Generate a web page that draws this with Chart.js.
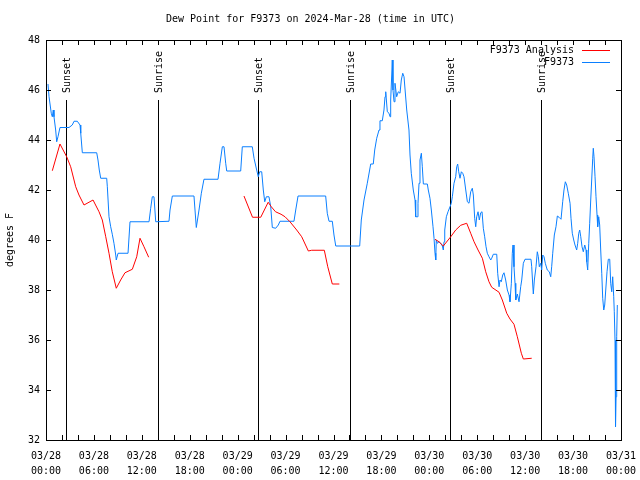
<!DOCTYPE html>
<html>
<head>
<meta charset="utf-8">
<script src="https://cdn.jsdelivr.net/npm/chart.js@4"></script>
<style>
  body { margin: 0; background: #fff; }
</style>
</head>
<body>
<canvas id="dew" width="640" height="480"></canvas>
<script>
// hours since 03/28 00:00 UTC
const blueHours = [
    0.25, 0.38, 0.66, 0.79, 0.91, 1.00, 1.21, 1.34, 1.50, 1.75,
    2.88, 3.29, 3.51, 3.92, 4.26, 4.35, 4.55, 6.35, 6.51, 6.67,
    6.85, 7.60, 7.68, 7.89, 8.10, 8.30, 8.51, 8.73, 8.80, 9.02,
    10.27, 10.52, 12.90, 13.11, 13.31, 13.52, 13.74, 15.40, 15.53, 15.82,
    18.53, 18.75, 18.82, 19.16, 19.45, 19.78, 21.54, 21.79, 22.08, 22.29,
    22.50, 22.63, 24.38, 24.58, 25.83, 26.05, 26.38, 26.58, 26.76, 27.01,
    27.21, 27.39, 27.59, 27.92, 28.14, 28.34, 28.76, 29.09, 29.30, 31.05,
    31.27, 31.56, 35.02, 35.22, 35.44, 35.85, 36.06, 36.28, 39.28, 39.48,
    39.82, 40.23, 40.66, 40.98, 41.16, 41.41, 41.70, 41.82, 42.11, 42.32,
    42.45, 42.54, 42.74, 42.95, 43.08, 43.16, 43.29, 43.36, 43.45, 43.58,
    43.70, 43.91, 44.11, 44.33, 44.49, 44.67, 44.83, 45.17, 45.45, 45.58,
    45.74, 45.99, 46.21, 46.29, 46.49, 46.58, 46.71, 46.83, 47.00, 47.12,
    47.25, 47.75, 47.87, 48.08, 48.25, 48.46, 48.59, 48.71, 48.80, 48.87,
    49.00, 49.21, 49.42, 49.63, 49.75, 49.84, 49.93, 50.13, 50.34, 50.59,
    50.75, 50.88, 51.09, 51.30, 51.43, 51.55, 51.68, 51.84, 52.01, 52.18,
    52.34, 52.56, 52.76, 52.97, 53.18, 53.38, 53.51, 53.68, 53.81, 53.93,
    54.10, 54.26, 54.43, 54.60, 54.76, 54.93, 55.10, 55.26, 55.47, 55.69,
    55.81, 56.01, 56.44, 56.56, 56.73, 56.85, 57.01, 57.19, 57.35, 57.56,
    57.77, 57.98, 58.10, 58.27, 58.39, 58.48, 58.60, 58.73, 58.82, 59.02,
    59.23, 59.44, 59.57, 59.77, 59.98, 60.73, 60.82, 60.95, 61.02, 61.15,
    61.36, 61.52, 61.65, 61.77, 61.95, 62.07, 62.20, 62.36, 62.52, 62.77,
    63.02, 63.20, 63.32, 63.45, 63.65, 63.86, 64.03, 64.24, 64.49, 64.70,
    64.86, 65.03, 65.20, 65.40, 65.62, 65.74, 65.90, 66.08, 66.24, 66.45,
    66.58, 66.71, 66.83, 66.96, 67.12, 67.28, 67.46, 67.62, 67.71, 67.83,
    67.96, 68.08, 68.21, 68.33, 68.46, 68.53, 68.62, 68.75, 68.87, 69.00,
    69.08, 69.21, 69.33, 69.46, 69.59, 69.71, 69.84, 69.96, 70.09, 70.25,
    70.41, 70.59, 70.71, 70.84, 70.96, 71.09, 71.16, 71.25, 71.29, 71.34,
    71.38, 71.46, 71.54
];
const blueDew = [
    46.24, 45.73, 45.07, 44.93, 45.2, 44.93, 44.4, 43.93, 44.13, 44.5,
    44.5, 44.6, 44.75, 44.75, 44.6, 44.27, 43.49, 43.49, 43.2, 42.8,
    42.47, 42.47, 42.13, 40.93, 40.53, 40.23, 39.87, 39.4, 39.2, 39.47,
    39.47, 40.73, 40.73, 41.27, 41.73, 41.73, 40.73, 40.75, 41.2, 41.76,
    41.76, 40.8, 40.5, 41.2, 41.87, 42.43, 42.43, 43.07, 43.73, 43.73,
    43.07, 42.76, 42.76, 43.73, 43.73, 43.27, 42.8, 42.53, 42.73, 42.73,
    42.0, 41.53, 41.73, 41.73, 41.33, 40.5, 40.47, 40.6, 40.75, 40.75,
    41.2, 41.76, 41.76, 41.07, 40.75, 40.75, 40.2, 39.76, 39.76, 40.8,
    41.6, 42.27, 43.04, 43.04, 43.6, 44.07, 44.4, 44.77, 44.77, 45.2,
    45.73, 45.93, 45.13, 45.07, 44.93, 45.6, 46.6, 47.2, 46.0, 45.53,
    46.27, 45.73, 45.93, 45.87, 46.4, 46.67, 46.53, 45.2, 44.4, 43.4,
    42.67, 42.0, 41.6, 40.93, 40.93, 41.47, 42.27, 43.2, 43.47, 42.93,
    42.24, 42.24, 42.0, 41.67, 41.2, 40.53, 40.07, 39.47, 39.2, 40.0,
    39.87, 39.93, 39.87, 39.76, 39.6, 39.93, 40.4, 40.93, 41.13, 41.33,
    41.47, 41.73, 42.27, 42.53, 42.93, 43.04, 42.73, 42.47, 42.73, 42.67,
    42.53, 42.0, 41.53, 41.47, 41.93, 42.07, 41.8, 40.87, 40.53, 40.93,
    41.13, 40.8, 41.09, 41.13, 40.47, 40.13, 39.73, 39.47, 39.33, 39.2,
    39.27, 39.43, 39.43, 38.67, 38.13, 38.4, 38.33, 38.6, 38.69, 38.4,
    38.0, 37.8, 37.53, 38.27, 39.47, 39.8, 38.93, 38.27, 37.6, 37.84,
    37.53, 38.13, 38.4, 39.07, 39.23, 39.23, 38.93, 38.2, 37.84, 38.4,
    38.93, 39.53, 39.33, 38.93, 39.07, 38.8, 39.4, 39.33, 39.07, 38.8,
    38.73, 38.53, 38.93, 39.47, 40.2, 40.53, 40.96, 40.91, 40.83, 41.53,
    42.0, 42.33, 42.2, 41.87, 41.47, 40.87, 40.27, 40.0, 39.8, 39.6,
    39.87, 40.27, 40.4, 40.13, 39.73, 39.53, 39.8, 39.6, 39.13, 38.8,
    39.87, 40.67, 41.6, 42.4, 43.27, 43.67, 43.33, 42.53, 41.73, 41.0,
    40.53, 40.93, 40.6, 39.6, 38.67, 37.67, 37.2, 37.4, 38.0, 38.73,
    39.23, 39.23, 38.27, 37.93, 38.53, 37.73, 37.13, 36.0, 34.13, 32.53,
    33.73, 36.13, 37.4
];

// analysis runs, null = no analysis (line break)
const redHours = [
    0.79, 1.75, 2.59, 3.09, 3.72, 4.13, 4.76, 5.89, 6.64, 7.05,
    7.48, 7.89, 8.30, 8.80, 9.35, 9.89, 10.81, 11.36, 11.77, 12.27,
    12.86, 18.00, 24.79, 25.86, 26.89, 27.82, 28.21, 28.74, 29.43, 29.93,
    30.55, 31.39, 32.02, 32.85, 33.27, 34.85, 35.28, 35.85, 36.73, 42.00,
    48.71, 49.21, 49.75, 50.68, 51.30, 51.93, 52.68, 53.18, 53.60, 54.10,
    54.64, 55.06, 55.47, 55.81, 56.73, 57.14, 57.69, 58.10, 58.60, 59.02,
    59.52, 59.77, 60.82
];
const redDew = [
    42.77, 43.84, 43.33, 42.93, 42.13, 41.8, 41.4, 41.6, 41.13, 40.8,
    40.13, 39.47, 38.73, 38.07, 38.4, 38.69, 38.83, 39.33, 40.07, 39.73,
    39.31, null, 41.76, 40.91, 40.91, 41.51, 41.33, 41.13, 41.03, 40.93,
    40.73, 40.4, 40.13, 39.56, 39.59, 39.59, 38.93, 38.24, 38.24, null,
    40.03, 39.93, 39.76, 40.13, 40.4, 40.59, 40.67, 40.27, 39.93, 39.6,
    39.27, 38.73, 38.33, 38.11, 37.91, 37.6, 37.07, 36.84, 36.63, 36.13,
    35.47, 35.24, 35.27
];

const sunHours = [2.5, 14.0, 26.55, 38.05, 50.6, 62.0];
const sunNames = ['Sunset', 'Sunrise', 'Sunset', 'Sunrise', 'Sunset', 'Sunrise'];
const sunLineTop = 45.6;

const xTickDates = ['03/28', '03/28', '03/28', '03/28', '03/29', '03/29', '03/29', '03/29', '03/30', '03/30', '03/30', '03/30', '03/31'];
const xTickTimes = ['00:00', '06:00', '12:00', '18:00', '00:00', '06:00', '12:00', '18:00', '00:00', '06:00', '12:00', '18:00', '00:00'];

const redColor = '#ff0000';
const blueColor = '#0a7fff';
const monoFont = '"DejaVu Sans Mono", "Liberation Mono", monospace';

Chart.defaults.font.family = monoFont;
Chart.defaults.font.size = 10;
Chart.defaults.color = '#000';

function pairs(xs, ys) {
    return xs.map((h, i) => ({x: h, y: ys[i]}));
}

let datasets = [
    {
        label: 'F9373 Analysis',
        data: pairs(redHours, redDew),
        borderColor: redColor,
        borderWidth: 1,
        pointRadius: 0,
        spanGaps: false
    },
    {
        label: 'F9373',
        data: pairs(blueHours, blueDew),
        borderColor: blueColor,
        borderWidth: 1,
        pointRadius: 0
    }
];

// gnuplot style box with inward ticks on all four sides
const frameTicks = {
    id: 'frameTicks',
    afterDraw(chart) {
        const {ctx, chartArea: a, scales: {x, y}} = chart;
        const px = v => Math.round(v) + 0.5;
        ctx.save();
        ctx.strokeStyle = '#000';
        ctx.lineWidth = 1;
        ctx.beginPath();
        for (let h = 0; h <= 72; h += 2) {
            let xp = px(x.getPixelForValue(h));
            ctx.moveTo(xp, a.bottom); ctx.lineTo(xp, a.bottom - 5);
            ctx.moveTo(xp, a.top); ctx.lineTo(xp, a.top + 5);
        }
        for (let d = 32; d <= 48; d += 2) {
            let yp = px(y.getPixelForValue(d));
            ctx.moveTo(a.left, yp); ctx.lineTo(a.left + 5, yp);
            ctx.moveTo(a.right, yp); ctx.lineTo(a.right - 5, yp);
        }
        ctx.stroke();
        ctx.strokeRect(px(a.left), px(a.top), Math.round(a.right - a.left), Math.round(a.bottom - a.top));
        ctx.restore();
    }
};

// sunrise / sunset markers, drawn under the series
const sunMarks = {
    id: 'sunMarks',
    beforeDatasetsDraw(chart) {
        const {ctx, scales: {x, y}} = chart;
        ctx.save();
        ctx.strokeStyle = '#000';
        ctx.lineWidth = 1;
        ctx.beginPath();
        sunHours.forEach(h => {
            let xp = Math.round(x.getPixelForValue(h)) + 0.5;
            ctx.moveTo(xp, Math.round(y.getPixelForValue(sunLineTop)));
            ctx.lineTo(xp, y.getPixelForValue(32));
        });
        ctx.stroke();
        ctx.font = '10px ' + monoFont;
        ctx.fillStyle = '#000';
        ctx.textAlign = 'left';
        ctx.textBaseline = 'middle';
        sunHours.forEach((h, i) => {
            ctx.save();
            ctx.translate(Math.round(x.getPixelForValue(h)) + 1, y.getPixelForValue(sunLineTop) - 7);
            ctx.rotate(-Math.PI / 2);
            ctx.fillText(sunNames[i], 0, 0);
            ctx.restore();
        });
        ctx.restore();
    }
};

const keyBox = {
    id: 'keyBox',
    afterDraw(chart) {
        const {ctx, chartArea: a} = chart;
        const rows = [['F9373 Analysis', redColor], ['F9373', blueColor]];
        ctx.save();
        ctx.font = '10px ' + monoFont;
        ctx.textAlign = 'right';
        ctx.textBaseline = 'middle';
        rows.forEach((r, i) => {
            let yy = a.top + 10 + 12 * i;
            ctx.fillStyle = '#000';
            ctx.fillText(r[0], a.right - 47, yy);
            ctx.strokeStyle = r[1];
            ctx.lineWidth = 1;
            ctx.beginPath();
            ctx.moveTo(a.right - 39, yy + 0.5);
            ctx.lineTo(a.right - 11, yy + 0.5);
            ctx.stroke();
        });
        ctx.restore();
    }
};

new Chart(document.getElementById('dew'), {
    type: 'line',
    data: {datasets: datasets},
    options: {
        responsive: false,
        animation: false,
        devicePixelRatio: 1,
        layout: {padding: {left: 0, right: 19, top: 0, bottom: 0}},
        elements: {line: {tension: 0}},
        scales: {
            x: {
                type: 'linear',
                min: 0,
                max: 72,
                grid: {display: false, drawTicks: false},
                border: {display: false},
                ticks: {
                    stepSize: 6,
                    autoSkip: false,
                    maxRotation: 0,
                    padding: 9,
                    font: {size: 10, lineHeight: 1.5},
                    callback: v => [xTickDates[v / 6], xTickTimes[v / 6]]
                },
                afterFit: s => {
                    s.height = 40;
                    s.paddingLeft = 0;
                    s.paddingRight = 0;
                }
            },
            y: {
                min: 32,
                max: 48,
                grid: {display: false, drawTicks: false},
                border: {display: false},
                ticks: {stepSize: 2, padding: 6},
                title: {display: true, text: 'degrees F', padding: {top: 4, bottom: 4}, font: {size: 10}},
                afterFit: s => {
                    s.width = 46;
                    s.paddingTop = 0;
                    s.paddingBottom = 0;
                }
            }
        },
        plugins: {
            legend: {display: false},
            tooltip: {enabled: false},
            title: {
                display: true,
                text: 'Dew Point for F9373 on 2024-Mar-28 (time in UTC)',
                font: {size: 10, weight: 'normal'},
                color: '#000',
                padding: {top: 13, bottom: 15}
            }
        }
    },
    plugins: [frameTicks, sunMarks, keyBox]
});
</script>
</body>
</html>
